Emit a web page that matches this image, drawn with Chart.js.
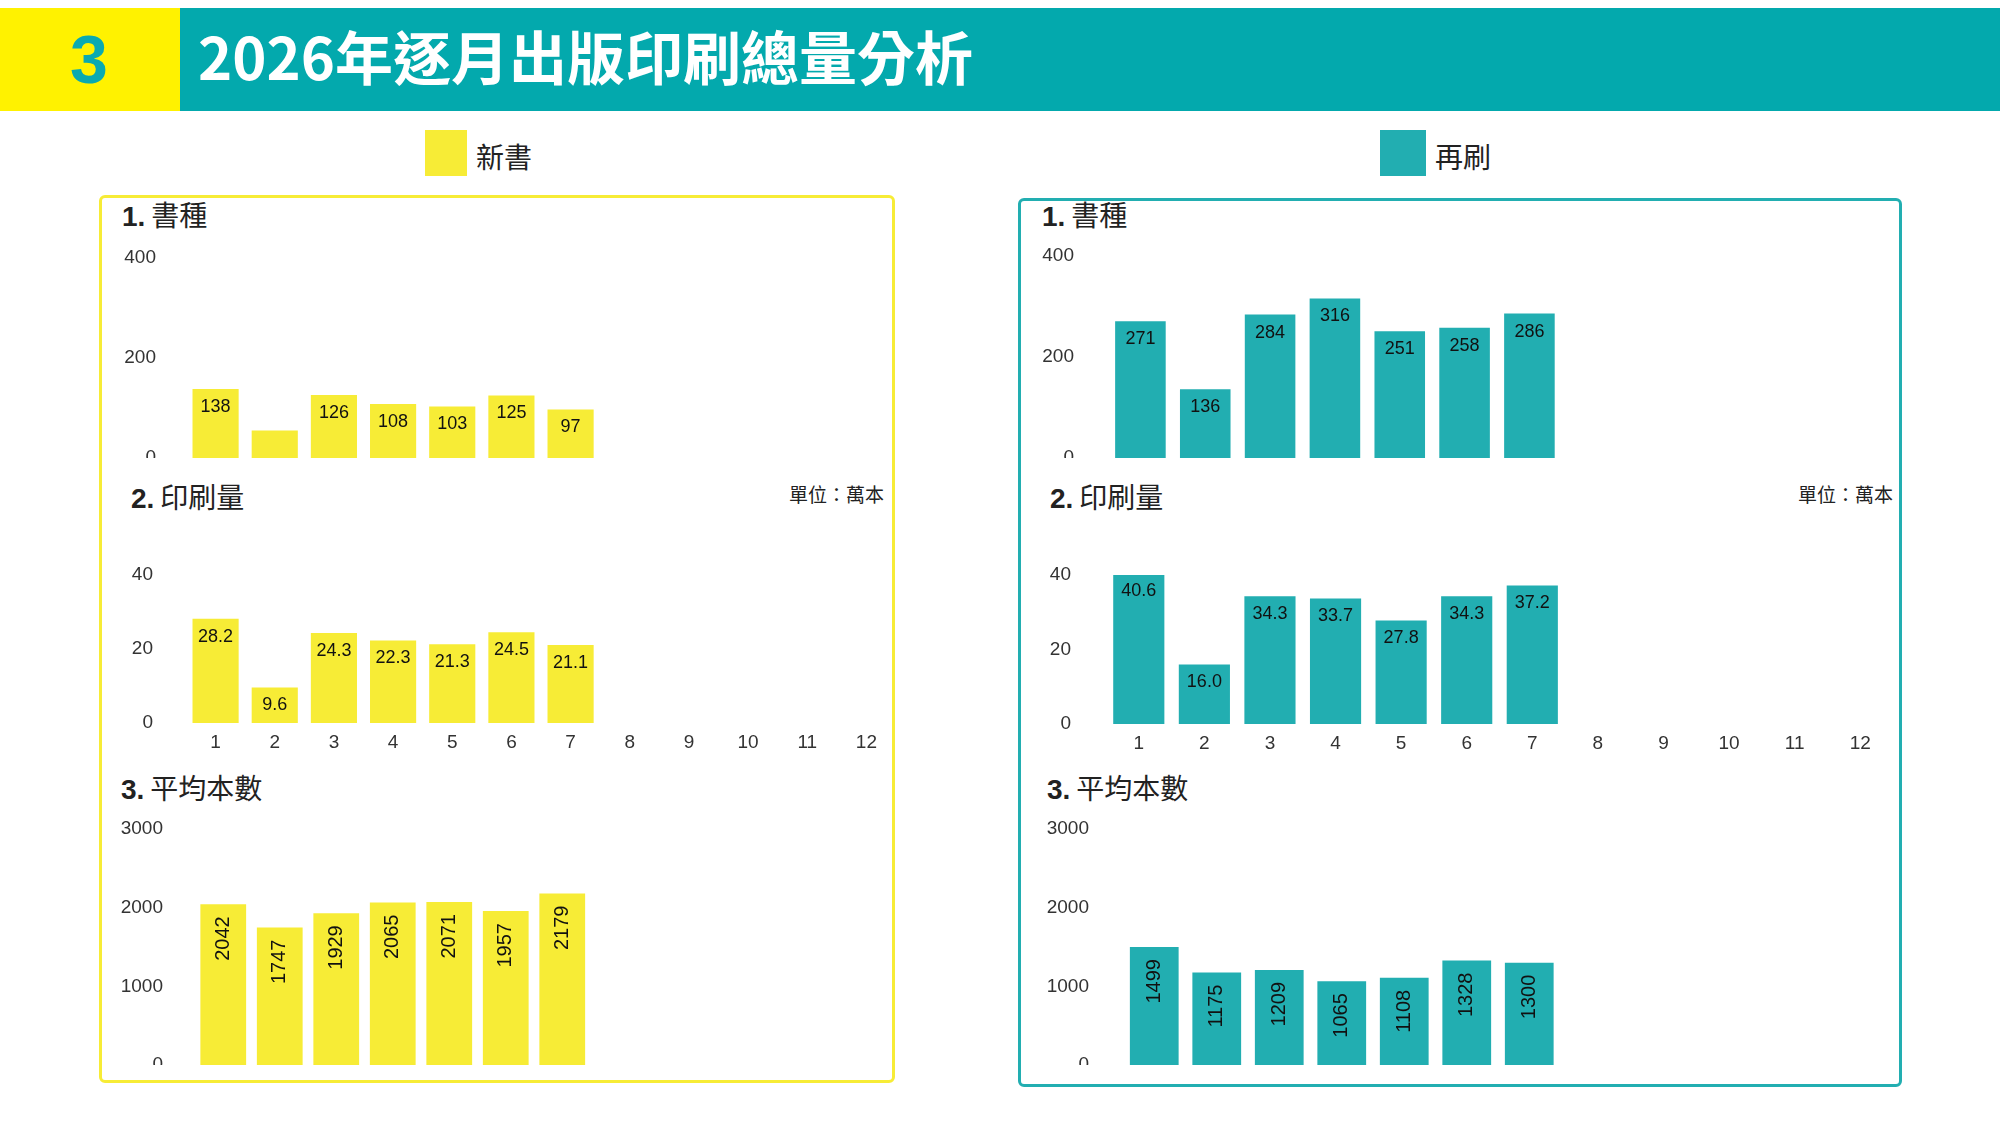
<!DOCTYPE html>
<html><head><meta charset="utf-8">
<script src="https://cdn.jsdelivr.net/npm/chart.js@4"></script>
<style>
body{margin:0;width:2000px;height:1141px;background:#fff;position:relative;overflow:hidden;font-family:"Noto Sans CJK TC",sans-serif;color:#222}
.abs{position:absolute}
canvas{position:absolute}
.sec{position:absolute;font-size:28px;line-height:1}
.sec b{font-family:"Liberation Sans",sans-serif;font-weight:900;margin-right:6px}
.unit{position:absolute;font-size:19px;line-height:1}
</style></head><body>
<div class="abs" style="left:0;top:8px;width:180px;height:103px;background:#FFF200"></div>
<div class="abs" style="left:180px;top:8px;width:1820px;height:103px;background:#03A9AD"></div>
<div class="abs" style="left:70px;top:20px;font:bold 68px 'Liberation Sans',sans-serif;color:#0AAAB0">3</div>
<div class="abs" style="left:198px;top:24px;font-size:58px;font-weight:bold;color:#fff;line-height:1.1">2026年逐月出版印刷總量分析</div>

<div class="abs" style="left:425px;top:130px;width:42px;height:46px;background:#F7EC36"></div>
<div class="abs" style="left:476px;top:136px;font-size:28px">新書</div>
<div class="abs" style="left:1380px;top:130px;width:46px;height:46px;background:#22AEB1"></div>
<div class="abs" style="left:1435px;top:136px;font-size:28px">再刷</div>

<div class="abs" style="left:99px;top:195px;width:790px;height:882px;border:3px solid #F7EC36;border-radius:6px"></div>
<div class="abs" style="left:1018px;top:198px;width:878px;height:883px;border:3px solid #22AEB1;border-radius:6px"></div>

<div class="sec" style="left:122px;top:200px"><b>1.</b>書種</div>
<div class="sec" style="left:131px;top:482px"><b>2.</b>印刷量</div>
<div class="unit" style="right:1116px;top:484px">單位：萬本</div>
<div class="sec" style="left:121px;top:773px"><b>3.</b>平均本數</div>
<div class="sec" style="left:1042px;top:200px"><b>1.</b>書種</div>
<div class="sec" style="left:1050px;top:482px"><b>2.</b>印刷量</div>
<div class="unit" style="right:107px;top:484px">單位：萬本</div>
<div class="sec" style="left:1047px;top:773px"><b>3.</b>平均本數</div>

<canvas id="n1"></canvas><canvas id="n2"></canvas><canvas id="n3"></canvas>
<canvas id="r1"></canvas><canvas id="r2"></canvas><canvas id="r3"></canvas>
<script>
const months = ["1","2","3","4","5","6","7","8","9","10","11","12"];
const newTitles = [138, 55, 126, 108, 103, 125, 97];
const newTitleLabels = ["138", "", "126", "108", "103", "125", "97"];
const newPrint = [28.2, 9.6, 24.3, 22.3, 21.3, 24.5, 21.1];
const newAvg = [2042, 1747, 1929, 2065, 2071, 1957, 2179];
const rePrintTitles = [271, 136, 284, 316, 251, 258, 286];
const rePrint = [40.6, 16.0, 34.3, 33.7, 27.8, 34.3, 37.2];
const reAvg = [1499, 1175, 1209, 1065, 1108, 1328, 1300];
const yTicks1 = [0, 200, 400];
const yTicks2 = [0, 20, 40];
const yTicks3 = [0, 1000, 2000, 3000];

const YELLOW = "#F7EC36", TEAL = "#22AEB1";
const NUM = "'Liberation Sans Narrow','Liberation Sans',sans-serif";

// values inside bars + y tick labels drawn by hand
const labelPlugin = {
  id: "barLabels",
  afterDraw(chart, args, opts) {
    const ctx = chart.ctx;
    const y = chart.scales.y;
    ctx.save();
    ctx.fillStyle = "#333";
    ctx.font = "19px " + NUM;
    ctx.textAlign = "right";
    ctx.textBaseline = "middle";
    opts.ticks.forEach(v => ctx.fillText(String(v), chart.chartArea.left - opts.pad, y.getPixelForValue(v)));
    ctx.fillStyle = "#111";
    chart.getDatasetMeta(0).data.forEach((bar, i) => {
      const txt = opts.labels[i];
      if (!txt) return;
      if (opts.rotate) {
        ctx.save();
        ctx.font = "20px 'Liberation Sans',sans-serif";
        ctx.translate(bar.x, bar.y + 12);
        ctx.rotate(-Math.PI / 2);
        ctx.textAlign = "right";
        ctx.fillText(txt, 0, 0);
        ctx.restore();
      } else {
        ctx.font = "18px " + NUM;
        ctx.textAlign = "center";
        ctx.fillText(txt, bar.x, bar.y + 18);
      }
    });
    ctx.restore();
  }
};

function makeChart(id, o) {
  const yW = 120, padTop = 20, xH = o.showX ? 40 : 0;
  const c = document.getElementById(id);
  const w = o.width + yW, h = (o.bottom - o.top) + padTop + xH;
  c.style.left = (o.left - yW) + "px";
  c.style.top = (o.top - padTop) + "px";
  c.style.width = w + "px";
  c.style.height = h + "px";
  c.width = w; c.height = h;
  new Chart(c, {
    type: "bar",
    data: {
      labels: months,
      datasets: [{ data: o.data, backgroundColor: o.color, barPercentage: o.bp, categoryPercentage: 1 }]
    },
    plugins: [labelPlugin],
    options: {
      responsive: false, animation: false, devicePixelRatio: 1,
      layout: { padding: { top: padTop, left: 0, right: 0, bottom: 0 } },
      plugins: {
        legend: { display: false }, tooltip: { enabled: false },
        barLabels: { labels: o.labels, rotate: o.rotate, ticks: o.ticks, pad: o.left - o.labelRight }
      },
      scales: {
        x: {
          display: o.showX,
          grid: { display: false, drawTicks: false }, border: { display: false },
          ticks: { color: "#333", font: { size: 19, family: NUM }, padding: 8, maxRotation: 0 },
          afterFit(s) { s.height = xH; }
        },
        y: {
          min: 0, max: o.ticks[o.ticks.length - 1],
          grid: { display: false, drawTicks: false }, border: { display: false },
          ticks: { display: false },
          afterFit(s) { s.width = yW; s.paddingTop = 0; s.paddingBottom = 0; }
        }
      }
    }
  });
}

makeChart("n1", { left: 186, width: 710, top: 258, bottom: 458, labelRight: 156, data: newTitles, labels: newTitleLabels, ticks: yTicks1, color: YELLOW, bp: 0.78 });
makeChart("n2", { left: 186, width: 710, top: 575, bottom: 723, labelRight: 153, showX: true, data: newPrint, labels: newPrint.map(v => v.toFixed(1)), ticks: yTicks2, color: YELLOW, bp: 0.78 });
makeChart("n3", { left: 195, width: 678, top: 829, bottom: 1065, labelRight: 163, data: newAvg, labels: newAvg.map(String), ticks: yTicks3, color: YELLOW, bp: 0.81, rotate: true });
makeChart("r1", { left: 1108, width: 778, top: 256, bottom: 458, labelRight: 1074, data: rePrintTitles, labels: rePrintTitles.map(String), ticks: yTicks1, color: TEAL, bp: 0.78 });
makeChart("r2", { left: 1106, width: 787, top: 575, bottom: 724, labelRight: 1071, showX: true, data: rePrint, labels: rePrint.map(v => v.toFixed(1)), ticks: yTicks2, color: TEAL, bp: 0.78 });
makeChart("r3", { left: 1123, width: 750, top: 829, bottom: 1065, labelRight: 1089, data: reAvg, labels: reAvg.map(String), ticks: yTicks3, color: TEAL, bp: 0.78, rotate: true });
</script>
</body></html>
